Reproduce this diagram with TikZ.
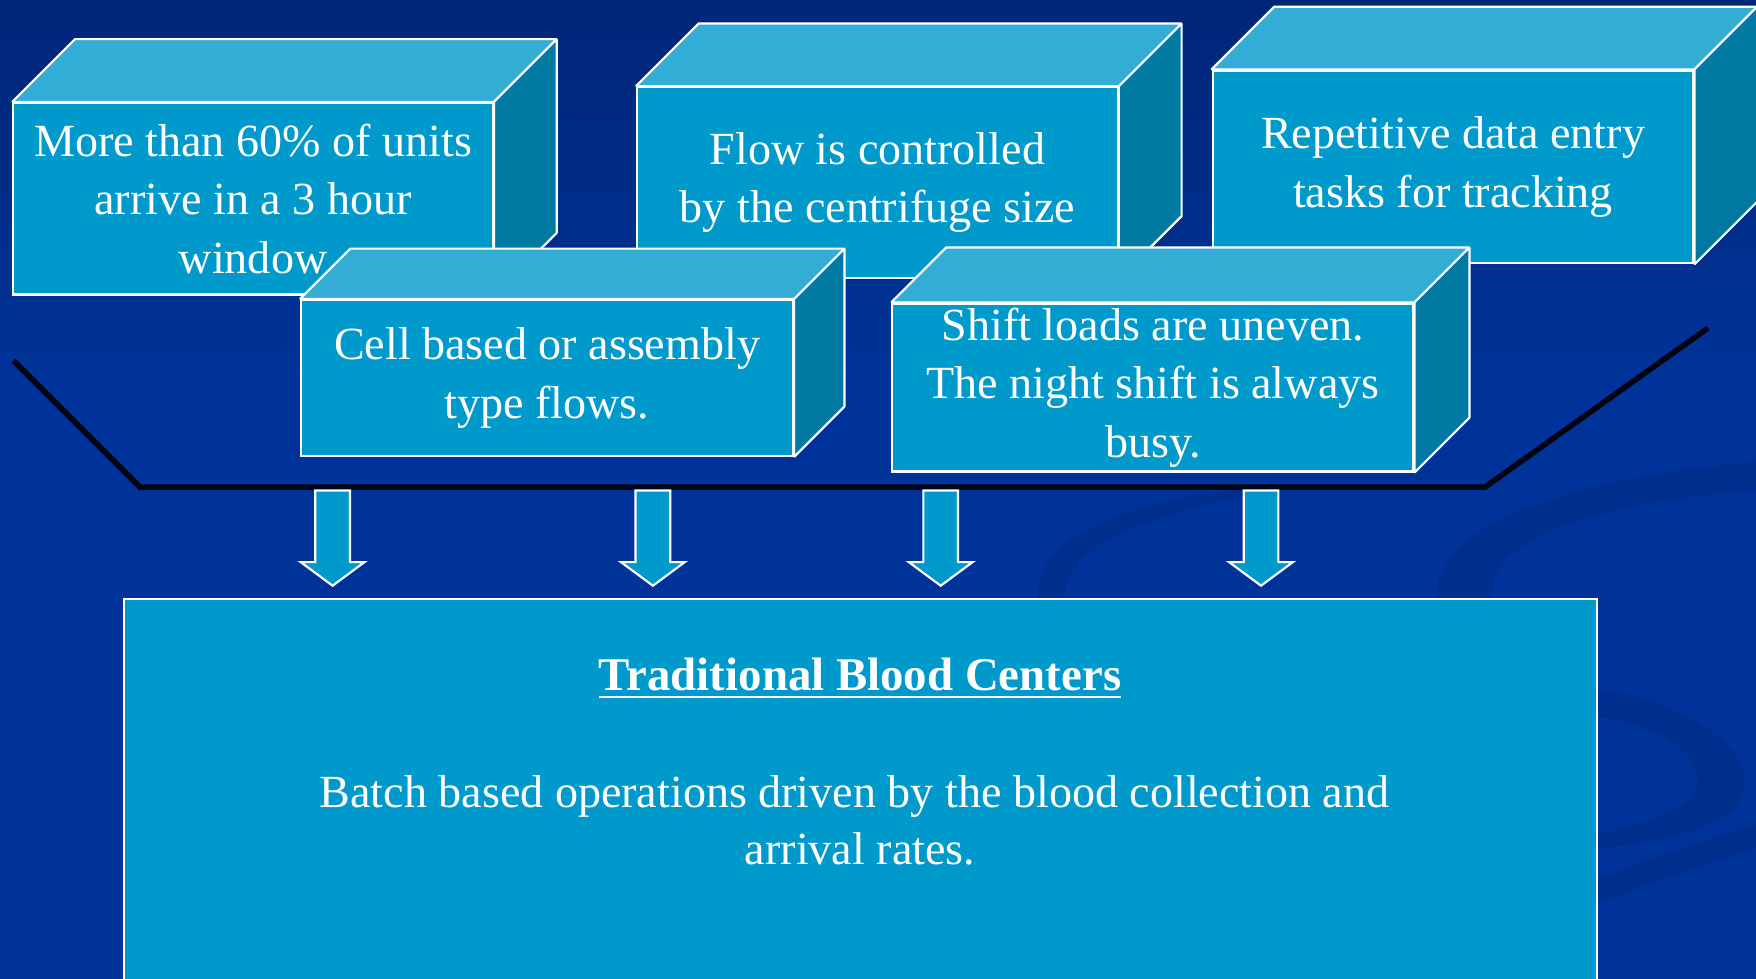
\documentclass[tikz,border=0pt]{standalone}
\usepackage{fontspec}
\setmainfont{Liberation Serif}
\usepackage{tikz}
\usetikzlibrary{shapes.arrows, calc}
\definecolor{slidebg}{RGB}{0,51,153}
\definecolor{slidetop}{RGB}{0,38,120}
\definecolor{swirlcolor}{RGB}{0,46,140}
\definecolor{facecolor}{RGB}{0,153,204}
\definecolor{topcolor}{RGB}{51,173,214}
\definecolor{sidecolor}{RGB}{0,122,163}
\definecolor{barcolor}{RGB}{0,5,20}

% top and right faces of a box node: #1 = node, #2 = depth
\newcommand{\boxfaces}[2]{%
  \draw[topside] (#1.north west) -- ++(#2,-#2) -- ($(#1.north east)+(#2,-#2)$) -- (#1.north east) -- cycle;
  \draw[rightside] (#1.north east) -- ++(#2,-#2) -- ($(#1.south east)+(#2,-#2)$) -- (#1.south east) -- cycle;
}

\begin{document}
\begin{tikzpicture}[
    x=0.01cm, y=-0.01cm,
    face/.style={draw=white, line width=0.55pt, fill=facecolor, text=white, align=center, inner sep=0pt, font=\fontsize{11.7}{14.8}\selectfont},
    topside/.style={draw=white, line width=0.55pt, fill=topcolor, line join=bevel},
    rightside/.style={draw=white, line width=0.55pt, fill=sidecolor, line join=bevel},
    flowarrow/.style={single arrow, draw=white, line width=0.55pt, fill=facecolor, rotate=-90, anchor=tail, minimum height=0.85cm, inner xsep=0pt, inner ysep=0.145cm, single arrow head extend=0.13cm, single arrow tip angle=107, single arrow head indent=0pt},
    bar/.style={draw=barcolor, line width=0.05cm},
    slidetext/.style={text=white, font=\fontsize{11.7}{14.8}\selectfont, inner sep=0pt, anchor=base}
]
    \useasboundingbox (0,0) rectangle (1568,874);

    % Background
    \fill[slidebg] (0,0) rectangle (1568,874);
    \shade[top color=slidetop, bottom color=slidebg] (0,0) rectangle (1568,340);
    \fill[swirlcolor] (1568,412) .. controls (1400,428) and (1268,470) .. (1284,545) -- (1332,545) .. controls (1318,482) and (1420,450) .. (1568,438) -- cycle;
    \fill[swirlcolor] (1110,436) .. controls (1000,450) and (915,480) .. (928,545) -- (950,545) .. controls (945,490) and (1010,462) .. (1130,440) -- cycle;
    \fill[swirlcolor] (1426,615) .. controls (1530,630) and (1585,690) .. (1545,725) .. controls (1520,745) and (1470,752) .. (1426,758) -- (1426,745) .. controls (1480,735) and (1522,715) .. (1515,690) .. controls (1505,662) and (1470,645) .. (1426,640) -- cycle;
    \fill[swirlcolor] (1426,785) .. controls (1480,765) and (1520,750) .. (1568,735) -- (1568,757) .. controls (1520,772) and (1480,788) .. (1426,806) -- cycle;

    % Result box
    \node[face, minimum width=13.15cm, minimum height=3.5cm] (centers) at (768.5,710) {};
    \node[slidetext, font=\fontsize{11.9}{14.8}\selectfont\bfseries] (title) at (768,617) {\underline{Traditional Blood Centers}};
    \node[slidetext] (batch) at (763,721) {Batch based operations driven by the blood collection and};
    \node[slidetext] (rates) at (768,772) {arrival rates.};

    % Bracket
    \draw[bar] (12,322) -- (125,435) -- (1326,435) -- (1525,293);

    % Arrows into the result box
    \foreach \x [count=\i] in {297,583,840,1126}
        \node[flowarrow] (arrow\i) at (\x,437) {};

    % Back row of boxes
    \node[face, minimum width=4.28cm, minimum height=1.71cm] (units) at (226,177.5) {More than 60\% of units\\arrive in a 3 hour\\window};
    \boxfaces{units}{56}
    \node[face, minimum width=4.29cm, minimum height=1.70cm] (flow) at (783.5,163) {Flow is controlled\\by the centrifuge size};
    \boxfaces{flow}{56}
    \node[face, minimum width=4.29cm, minimum height=1.72cm] (entry) at (1297.5,149) {Repetitive data entry\\tasks for tracking};
    \boxfaces{entry}{56}

    % Front row of boxes
    \node[face, minimum width=4.39cm, minimum height=1.39cm] (cell) at (488.5,337.5) {Cell based or assembly\\type flows.};
    \boxfaces{cell}{45}
    \node[face, minimum width=4.65cm, minimum height=1.50cm] (shift) at (1029.5,346) {Shift loads are uneven.\\The night shift is always\\busy.};
    \boxfaces{shift}{49}
\end{tikzpicture}
\end{document}
